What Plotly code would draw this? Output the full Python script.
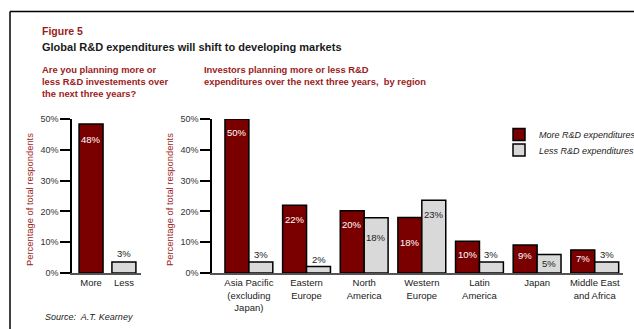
import plotly.graph_objects as go

W, H = 634, 329

# ---- data ----
left_cats = ["More", "Less"]
left_vals = [48.4, 3.6]
left_text = ["48%", "3%"]

regions = ["Asia Pacific<br>(excluding<br>Japan)", "Eastern<br>Europe", "North<br>America",
           "Western<br>Europe", "Latin<br>America", "Japan", "Middle East<br>and Africa"]
more_vals = [50, 22, 20.2, 18, 10.3, 9.1, 7.5]
more_text = ["50%", "22%", "20%", "18%", "10%", "9%", "7%"]
less_vals = [3.6, 2.1, 17.9, 23.6, 3.6, 6.0, 3.6]
less_text = ["3%", "2%", "18%", "23%", "3%", "5%", "3%"]

y_ticks = [0, 10, 20, 30, 40, 50]
y_ticktext = ["0%", "10%", "20%", "30%", "40%", "50%"]

RED = "#7A0000"
GRAY = "#D9D9D9"
TITLE_RED = "#9B1C1C"
FONT = "Liberation Sans, Arial, sans-serif"

def px(x):
    return x / W

def py(y):
    return 1 - y / H

fig = go.Figure()

# left chart
fig.add_trace(go.Bar(x=left_cats, y=left_vals, marker=dict(color=[RED, GRAY], line=dict(color="black", width=1.5)),
                     width=0.73, xaxis="x", yaxis="y", showlegend=False, hoverinfo="skip"))

# right chart
fig.add_trace(go.Bar(x=regions, y=more_vals, name="<i>More R&D expenditures</i>",
                     marker=dict(color=RED, line=dict(color="black", width=1.5)),
                     width=0.415, offset=-0.415, xaxis="x2", yaxis="y2", legend="legend"))
fig.add_trace(go.Bar(x=regions, y=less_vals, name="<i>Less R&D expenditures</i>",
                     marker=dict(color=GRAY, line=dict(color="black", width=1.5)),
                     width=0.415, offset=0.0, xaxis="x2", yaxis="y2", legend="legend2"))

ydom = [py(273), py(119)]
yax = dict(range=[0, 50], tickvals=y_ticks, ticktext=y_ticktext, showgrid=False, zeroline=False,
           showline=True, linecolor="black", linewidth=1.5, ticks="outside", ticklen=10, tickwidth=1.5,
           tickcolor="black", tickfont=dict(family=FONT, size=9, color="#333333"), domain=ydom, fixedrange=True)
xax = dict(showgrid=False, zeroline=False, showline=True, linecolor="#555555", linewidth=2, ticks="",
           tickfont=dict(family=FONT, size=9.5, color="#222222"), type="category")

annotations = []
# value labels - left
for c, v, t in zip(left_cats, left_vals, left_text):
    if v > 10:
        annotations.append(dict(x=c, y=v - 5, xref="x", yref="y", text=t, showarrow=False,
                                font=dict(family=FONT, size=9.5, color="white")))
    else:
        annotations.append(dict(x=c, y=v, xref="x", yref="y", text=t, showarrow=False, yanchor="bottom", yshift=1,
                                font=dict(family=FONT, size=9.5, color="#222222")))
# value labels - right
for i, (c, v, t) in enumerate(zip(regions, more_vals, more_text)):
    ly = v - 4.5 if v >= 20 else v / 2 + 1
    annotations.append(dict(x=i - 0.2075, y=ly, xref="x2", yref="y2", text=t, showarrow=False,
                            font=dict(family=FONT, size=9.5, color="white")))
for i, (c, v, t) in enumerate(zip(regions, less_vals, less_text)):
    if v > 5:
        ly = v - 4.5 if v >= 20 else v * 0.7 - 1
        annotations.append(dict(x=i + 0.2075, y=ly, xref="x2", yref="y2", text=t, showarrow=False,
                                font=dict(family=FONT, size=9.5, color="#222222")))
    else:
        annotations.append(dict(x=i + 0.2075, y=v, xref="x2", yref="y2", text=t, showarrow=False,
                                yanchor="bottom", yshift=0, font=dict(family=FONT, size=9.5, color="#222222")))

# titles
annotations += [
    dict(x=px(40), y=py(30.5), text="<b>Figure 5</b>", font=dict(family=FONT, size=10.5, color=TITLE_RED)),
    dict(x=px(40), y=py(47), text="<b>Global R&D expenditures will shift to developing markets</b>",
         font=dict(family=FONT, size=11, color="#1a1a1a")),
    dict(x=px(40), y=py(81.5), text="<b>Are you planning more or<br>less R&D investements over<br>the next three years?</b>",
         font=dict(family=FONT, size=9.4, color=TITLE_RED), align="left"),
    dict(x=px(202), y=py(75.5), text="<b>Investors planning more or less R&D<br>expenditures over the next three years,  by region</b>",
         font=dict(family=FONT, size=9.4, color=TITLE_RED), align="left"),
    dict(x=px(43), y=py(317), text="<i>Source:  A.T. Kearney</i>", font=dict(family=FONT, size=9, color="#222222")),
    dict(x=px(29), y=py(200), text="Percentage of total respondents", textangle=-90, xanchor="center",
         font=dict(family=FONT, size=9.4, color=TITLE_RED)),
    dict(x=px(169), y=py(200), text="Percentage of total respondents", textangle=-90, xanchor="center",
         font=dict(family=FONT, size=9.4, color=TITLE_RED)),
]
for a in annotations[-7:]:
    a.update(xref="paper", yref="paper", showarrow=False, yanchor="middle")
    a.setdefault("xanchor", "left")

leg = dict(xanchor="left", yanchor="top", bgcolor="rgba(0,0,0,0)", borderwidth=0,
           font=dict(family=FONT, size=9, color="#222222"), itemclick=False, itemdoubleclick=False)

fig.update_layout(
    width=W, height=H, margin=dict(l=0, r=0, t=0, b=0, autoexpand=False),
    paper_bgcolor="white", plot_bgcolor="white",
    barmode="overlay",
    xaxis=dict(xax, domain=[px(72), px(141)], range=[-0.58, 1.52], anchor="y"),
    yaxis=dict(yax, anchor="x"),
    xaxis2=dict(xax, domain=[px(212), px(623)], range=[-0.64, 6.49], anchor="y2"),
    yaxis2=dict(yax, anchor="x2"),
    legend=dict(leg, x=px(499), y=py(120)),
    legend2=dict(leg, x=px(499), y=py(135.5)),
    annotations=annotations,
    shapes=[
        dict(type="line", xref="paper", yref="paper", x0=px(10), x1=1.01, y0=py(11.5), y1=py(11.5),
             line=dict(color="black", width=1.5)),
        dict(type="line", xref="paper", yref="paper", x0=px(10), x1=px(10), y0=py(11.5), y1=-0.01,
             line=dict(color="black", width=1.5)),
    ],
    showlegend=True,
    font=dict(family=FONT),
)

fig.write_html("out.html", config={"displayModeBar": False})
